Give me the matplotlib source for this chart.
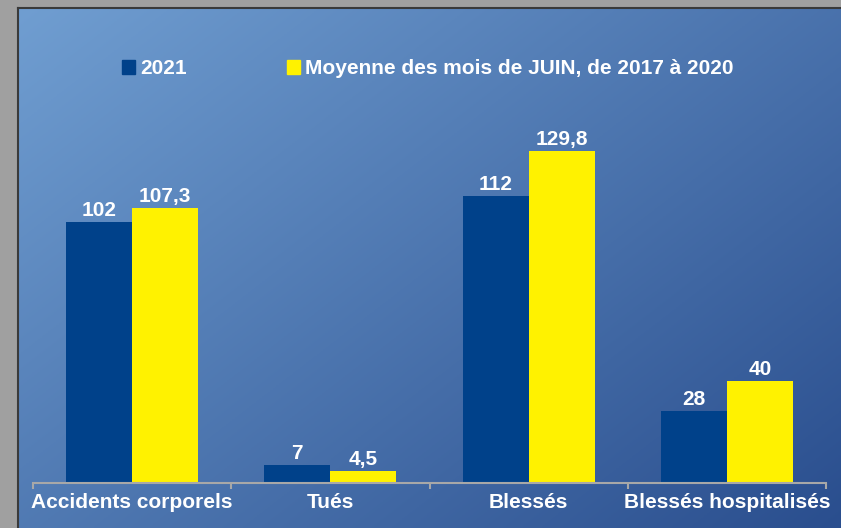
import numpy as np
import matplotlib
matplotlib.use('Agg')
import matplotlib.pyplot as plt
from matplotlib.patches import Patch

categories = ['Accidents corporels', 'Tués', 'Blessés', 'Blessés hospitalisés']
vals_2021 = [102, 7, 112, 28]
vals_moy = [107.3, 4.5, 129.8, 40]
lab_2021 = '2021'
lab_moy = 'Moyenne des mois de JUIN, de 2017 à 2020'

c_dark = '#00418a'
c_yel = '#fff200'
fs = 15

plt.rcParams['font.family'] = ['Liberation Sans', 'DejaVu Sans']
plt.rcParams['font.weight'] = 'bold'

W, H = 841, 528
fig = plt.figure(figsize=(W / 100, H / 100), dpi=100, facecolor='#a0a0a0')

# gradient background
bg = fig.add_axes([18 / W, 0, (W - 18) / W, (H - 8) / H])
yy, xx = np.mgrid[0:1:200j, 0:1:300j]
t = (xx * 0.55 + yy * 0.45)
c0 = np.array([0x70, 0x9e, 0xd1]) / 255
c1 = np.array([0x2a, 0x4e, 0x8e]) / 255
img = c0[None, None, :] * (1 - t[..., None]) + c1[None, None, :] * t[..., None]
bg.imshow(img, aspect='auto', extent=[0, 1, 0, 1], origin='upper')
bg.set_axis_off()

# dark frame edge
fig.add_artist(plt.Line2D([17.5 / W, 17.5 / W], [0, (H - 7.5) / H], color='#3a3a3a', lw=1.5))
fig.add_artist(plt.Line2D([17.5 / W, 1], [(H - 7.5) / H, (H - 7.5) / H], color='#3a3a3a', lw=1.5))

ax = fig.add_axes([33 / W, 45 / H, 793 / W, 409.6 / H])
ax.set_facecolor('none')
x = np.arange(len(categories))
w = 1 / 3
b1 = ax.bar(x - w / 2, vals_2021, w, color=c_dark, label=lab_2021)
b2 = ax.bar(x + w / 2, vals_moy, w, color=c_yel, label=lab_moy)
ax.set_xlim(-0.5, len(categories) - 0.5)
ax.set_ylim(0, 160)

def fmt(v):
    return ('%g' % v).replace('.', ',')

for bars, vals in [(b1, vals_2021), (b2, vals_moy)]:
    for r, v in zip(bars, vals):
        ax.annotate(fmt(v), (r.get_x() + r.get_width() / 2, v), xytext=(0, 1.5),
                    textcoords='offset points', ha='center', va='bottom',
                    color='white', fontsize=fs, fontweight='bold')

for s in ['top', 'right', 'left']:
    ax.spines[s].set_visible(False)
ax.spines['bottom'].set_color('#a8a8a8')
ax.spines['bottom'].set_linewidth(1.5)
ax.set_yticks([])
ax.set_xticks(x)
ax.set_xticklabels(categories, color='white', fontsize=fs, fontweight='bold')
ax.tick_params(axis='x', which='major', length=0, pad=7.5)
ax.set_xticks(np.arange(-0.5, len(categories)), minor=True)
ax.tick_params(axis='x', which='minor', length=4, color='#a8a8a8', width=1.5)

handles = [Patch(color=c_dark), Patch(color=c_yel)]
leg = fig.legend(handles, [lab_2021, lab_moy], loc='center', ncol=2,
                 bbox_to_anchor=(0.509, 1 - 69 / H), frameon=False,
                 fontsize=fs, handlelength=0.62, handleheight=0.62,
                 handletextpad=0.25, columnspacing=4.8)
for tx in leg.get_texts():
    tx.set_color('white')
    tx.set_fontweight('bold')

fig.savefig('out.png', dpi=100, facecolor=fig.get_facecolor())
